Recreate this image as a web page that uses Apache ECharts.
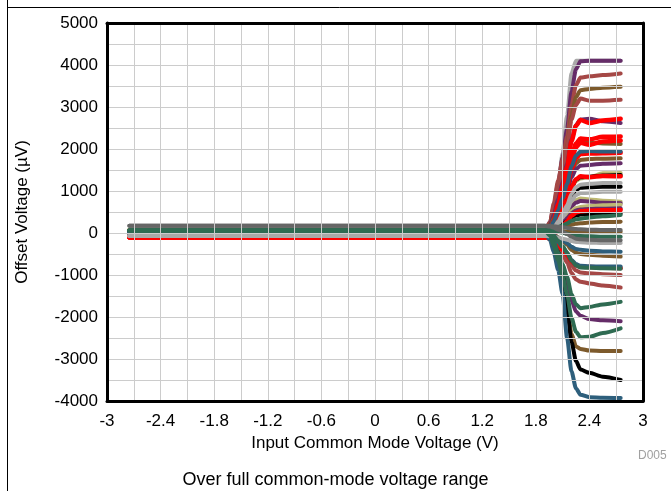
<!DOCTYPE html>
<html>
<head>
<meta charset="utf-8">
<script src="https://cdn.jsdelivr.net/npm/echarts@6/dist/echarts.min.js"></script>
<style>html,body{margin:0;padding:0;background:#fff;}#c{width:671px;height:491px;}</style>
</head>
<body>
<div id="c"></div>
<script>
// Input common-mode voltage sample points (V)
const xV = [-2.75, 1.9, 1.96, 2.0, 2.05, 2.1, 2.15, 2.2, 2.25, 2.3, 2.4, 2.55, 2.75];
const xTickLabels = ['-3','-2.4','-1.8','-1.2','-0.6','0','0.6','1.2','1.8','2.4','3'];
const yTickLabels = ['-4000','-3000','-2000','-1000','0','1000','2000','3000','4000','5000'];

// Offset voltage (µV) for each unit, read at the xV points
const u01 = [-70,-70,150,500,1100,1900,2800,3800,4100,4100,4100,4100,4100];
const u02 = [60,60,262,626,1191,1797,2484,3373,3898,4090,4100,4100,4100];
const u03 = [40,40,260,700,1250,1750,2300,3050,3520,3700,3730,3760,3800];
const u04 = [50,50,218,519,988,1491,2060,2797,3233,3400,3430,3460,3480];
const u05 = [-20,-20,200,600,1100,1550,2050,2700,3050,3200,3150,3150,3170];
const u06 = [-100,-100,40,291,681,1100,1574,2188,2551,2690,2620,2680,2720];
const u07 = [60,60,192,430,799,1195,1644,2225,2568,2700,2720,2660,2620];
const u08 = [-100,-100,18,229,558,911,1310,1827,2133,2250,2230,2290,2300];
const u09 = [-100,-100,13,215,530,868,1250,1745,2038,2150,2100,2180,2200];
const u10 = [50,50,157,348,646,966,1328,1797,2074,2180,2150,2130,2120];
const u11 = [0,0,97,272,543,834,1164,1591,1843,1940,1950,1940,1940];
const u12 = [-100,-100,-1,177,454,751,1088,1524,1781,1880,1890,1900,1910];
const u13 = [50,50,135,287,523,777,1064,1436,1656,1740,1760,1770,1780];
const u14 = [60,60,137,276,491,722,984,1323,1523,1600,1620,1650,1660];
const u15 = [80,80,141,251,422,605,812,1080,1239,1300,1330,1420,1430];
const u16 = [40,40,105,221,401,595,814,1098,1266,1330,1340,1370,1380];
const u17 = [-100,-100,-28,103,306,524,770,1089,1278,1350,1330,1360,1350];
const u18 = [-70,-70,-9,101,272,455,662,930,1089,1150,1170,1190,1190];
const u19 = [40,40,92,186,331,487,664,893,1028,1080,1090,1100,1100];
const u20 = [-70,-70,-19,73,216,369,542,766,899,950,960,980,980];
const u21 = [80,80,117,184,287,398,524,687,783,820,800,770,745];
const u22 = [60,60,95,158,256,361,480,634,725,760,750,720,710];
const u23 = [80,80,107,156,231,312,404,523,593,620,640,660,670];
const u24 = [60,60,85,130,200,275,360,470,535,560,570,580,590];
const u25 = [-100,-100,-69,-13,74,167,272,408,489,520,530,540,550];
const u26 = [40,40,60,96,152,212,280,368,420,440,450,460,470];
const u27 = [60,60,74,99,138,180,228,290,326,340,370,400,430];
const u28 = [50,50,59,75,100,127,158,198,221,230,250,260,270];
const u29 = [170,170,166,159,148,136,122,104,94,90,80,70,70];
const u30 = [50,50,49,46,42,37,32,25,22,20,20,25,30];
const u31 = [60,60,54,42,24,4,-18,-47,-64,-70,-80,-90,-90];
const u32 = [170,170,154,125,80,32,-22,-92,-134,-150,-160,-170,-170];
const u33 = [-70,-70,-78,-91,-112,-135,-160,-193,-213,-220,-230,-240,-240];
const u34 = [0,0,-20,-56,-112,-172,-240,-328,-380,-400,-420,-440,-445];
const u35 = [50,50,23,-27,-104,-187,-280,-401,-473,-500,-520,-540,-560];
const u36 = [0,0,-39,-109,-218,-335,-468,-640,-741,-780,-790,-800,-800];
const u37 = [60,60,16,-63,-186,-318,-468,-662,-776,-820,-830,-840,-850];
const u38 = [-100,-100,-135,-198,-296,-401,-520,-674,-765,-800,-810,-820,-835];
const u39 = [-20,-20,-66,-149,-278,-416,-572,-774,-894,-940,-960,-980,-1000];
const u40 = [-20,-20,-77,-180,-339,-510,-704,-955,-1103,-1160,-1200,-1250,-1300];
const u41 = [60,60,-33,-199,-458,-736,-1050,-1457,-1698,-1790,-1760,-1700,-1640];
const u42 = [60,60,-42,-224,-508,-813,-1158,-1605,-1869,-1970,-2050,-2080,-2100];
const u43 = [60,60,-67,-296,-651,-1032,-1464,-2023,-2353,-2480,-2470,-2380,-2270];
const u44 = [50,50,-20,-150,-450,-950,-1750,-2400,-2700,-2760,-2800,-2810,-2810];
const u45 = [40,40,-20,-150,-450,-950,-1800,-2600,-3050,-3250,-3330,-3420,-3500];
const u46 = [0,0,-170,-450,-880,-1450,-2500,-3300,-3700,-3850,-3910,-3920,-3930];

// Styles (kept apart from data)
const C = {
  purple:'#652c68', brownred:'#a54846', brown:'#7d5a2c', red:'#ff0000',
  black:'#000000', khaki:'#bdb873', ltgray:'#a9a9a9', dkgray:'#666666',
  green:'#2f6b52', teal:'#2e5f7c'
};
// Drawing order (first drawn = bottom)
const units = [
  [u01,'ltgray'],
  [u02,'purple'],[u03,'brownred'],[u04,'brown'],[u05,'brownred'],[u07,'purple'],
  [u10,'brown'],[u13,'brown'],[u14,'purple'],[u15,'khaki'],[u16,'black'],
  [u19,'black'],[u21,'khaki'],[u22,'purple'],[u23,'khaki'],[u24,'purple'],
  [u26,'black'],[u28,'brown'],[u30,'brown'],[u35,'brown'],[u39,'brownred'],
  [u40,'brownred'],[u42,'purple'],[u44,'brown'],[u45,'black'],
  [u06,'red'],[u08,'red'],[u09,'red'],[u12,'red'],[u17,'red'],[u25,'red'],[u38,'red'],
  [u11,'teal'],[u34,'teal'],[u36,'teal'],[u46,'teal'],
  [u18,'ltgray'],[u20,'ltgray'],[u33,'ltgray'],
  [u27,'green'],[u31,'green'],[u37,'green'],[u41,'green'],[u43,'green'],
  [u29,'dkgray'],[u32,'dkgray']
];

const FONT = 'Liberation Sans, Arial, sans-serif';
const chart = echarts.init(document.getElementById('c'), null, {renderer:'canvas'});

const series = units.map(([vals, col]) => ({
  type: 'line',
  xAxisIndex: 0, yAxisIndex: 0,
  data: xV.map((x, k) => [x, vals[k]]),
  showSymbol: false,
  symbol: 'none',
  smooth: 0.25,
  smoothMonotone: 'x',
  lineStyle: { color: C[col], width: col === 'red' ? 4.5 : 4, cap: 'round', join: 'round' },
  z: 2,
  animation: false
}));

const frameLine = { show: true, onZero: false, lineStyle: { color: '#000', width: 3 } };

chart.setOption({
  animation: false,
  backgroundColor: '#ffffff',
  grid: { left: 107, right: 28, top: 23, bottom: 90 },
  xAxis: [{
    type: 'value', min: -3, max: 3, interval: 0.3, position: 'bottom',
    axisLine: frameLine, axisTick: { show: false },
    splitLine: { show: true, showMinLine: false, showMaxLine: false, lineStyle: { color: '#cccccc', width: 1 } },
    axisLabel: {
      color: '#000', fontFamily: FONT, fontSize: 17, margin: 12,
      showMinLabel: true, showMaxLabel: true,
      formatter: function (v) {
        const k = Math.round((v + 3) / 0.3);
        return k % 2 === 0 ? xTickLabels[k / 2] : '';
      }
    },
    name: 'Input Common Mode Voltage (V)', nameLocation: 'middle', nameGap: 31,
    nameTextStyle: { color: '#000', fontFamily: FONT, fontSize: 17, verticalAlign: 'top' },
    z: 3
  }, {
    type: 'value', min: -3, max: 3, interval: 0.3, position: 'top',
    axisLine: frameLine, axisTick: { show: false }, axisLabel: { show: false }, splitLine: { show: false }, z: 3
  }],
  yAxis: [{
    type: 'value', min: -4000, max: 5000, interval: 500, position: 'left',
    axisLine: frameLine, axisTick: { show: false },
    splitLine: { show: true, showMinLine: false, showMaxLine: false, lineStyle: { color: '#cccccc', width: 1 } },
    axisLabel: {
      color: '#000', fontFamily: FONT, fontSize: 17, margin: 9,
      showMinLabel: true, showMaxLabel: true,
      formatter: function (v) {
        const k = Math.round((v + 4000) / 500);
        return k % 2 === 0 ? yTickLabels[k / 2] : '';
      }
    },
    name: 'Offset Voltage (µV)', nameLocation: 'middle', nameGap: 76, nameRotate: 90,
    nameTextStyle: { color: '#000', fontFamily: FONT, fontSize: 17 },
    z: 3
  }, {
    type: 'value', min: -4000, max: 5000, interval: 500, position: 'right',
    axisLine: frameLine, axisTick: { show: false }, axisLabel: { show: false }, splitLine: { show: false }, z: 3
  }],
  series: series,
  graphic: [
    { type: 'line', silent: true, shape: { x1: 7.5, y1: 0, x2: 7.5, y2: 491 }, style: { stroke: '#000', lineWidth: 1 } },
    { type: 'line', silent: true, shape: { x1: 7.5, y1: 7.5, x2: 671, y2: 7.5 }, style: { stroke: '#000', lineWidth: 1 } },
    { type: 'text', left: 638, top: 450, style: { text: 'D005', fill: '#a0a0a0', font: '12px ' + FONT } },
    { type: 'text', left: 'center', top: 471, style: { text: 'Over full common-mode voltage range', fill: '#000', font: '18px ' + FONT, x: -20 } }
  ]
});
</script>
</body>
</html>
